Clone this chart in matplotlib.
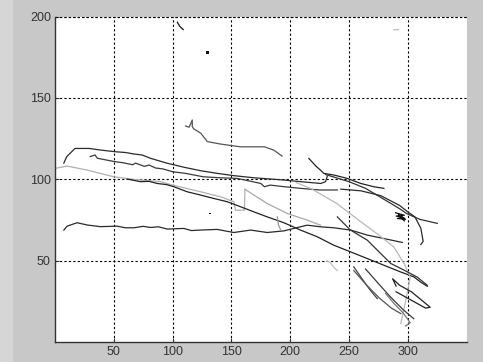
import numpy as np
import matplotlib
matplotlib.use('Agg')
import matplotlib.pyplot as plt
from matplotlib.patches import Rectangle

# tracks: (x list, y list, colour)
track_a_x = [7.5, 10, 17, 29, 39, 51, 60, 67, 74, 81, 88, 95, 110, 124, 138, 152, 169, 180, 195, 209, 226, 230, 231.5]
track_a_y = [110, 114, 119, 119, 118, 117, 116.5, 115.6, 115, 113, 111.5, 110, 107.4, 105.3, 103.7, 102.3, 101, 100.4, 99.6, 98.6, 97.5, 98.6, 102]

track_b_x = [30, 34, 36, 50, 58, 66, 68.5, 76, 80, 85.5, 92, 100, 111, 126, 140, 155, 175, 178, 183, 195, 209, 225, 240]
track_b_y = [114, 115, 113, 111, 110.2, 109, 110, 108, 108.8, 107, 106.4, 104.7, 103.7, 101.6, 101, 100.6, 97.5, 95.5, 96.5, 95.5, 94.5, 93.5, 93.5]

track_c_x = [111, 114, 116.7, 116.7, 118, 124, 129.5, 140.7, 157.7, 178, 186, 193]
track_c_y = [132.8, 132, 136.5, 132.4, 131, 128.3, 123.2, 121.7, 120, 120, 118, 114.3]

track_d_x = [215.8, 222, 225.7, 228.5, 237, 248.5, 260, 271, 279.6]
track_d_y = [112.9, 108, 105.7, 103.7, 102.7, 100.6, 97.5, 95.5, 94.5]

track_e_x = [230, 250, 264, 278, 293, 299, 310, 325]
track_e_y = [103, 98.6, 94.5, 88.5, 82, 79, 75.5, 73]

track_f_x = [0.4, 10.3, 27.4, 50, 67, 89.7, 100, 123.8, 140.7, 152, 153.5, 161, 161.5]
track_f_y = [106.8, 108.2, 105.7, 101.6, 100, 98.6, 96.5, 92.4, 89.3, 86.3, 81.1, 81.1, 93.9]

track_g_x = [61.4, 72.7, 80, 86.9, 95, 101, 112.4, 123.7, 135, 146.4, 157.8, 169, 180.4, 194.6, 208.7, 222.9, 237, 251.3, 265.5, 279.6, 293.8, 305, 310.8, 316.5]
track_g_y = [100.2, 98.6, 98.8, 97.5, 96.8, 95.5, 92.4, 90.4, 88.3, 86.3, 83.2, 80.1, 77, 73.4, 68.9, 64.8, 59.6, 55.5, 51.4, 47.3, 43.2, 40.2, 37, 34.4]

track_h_x = [7.5, 10.3, 18.8, 27.4, 38.7, 52.8, 60, 67, 75, 81, 88, 95.4, 109.5, 116, 123.7, 137.9, 152, 166.3, 180.4, 194.6, 203, 214.4, 225.7, 237, 251.3, 265.5, 279.6, 295.2]
track_h_y = [68.9, 71.3, 73.4, 72, 71, 71.3, 70.3, 70.3, 71.2, 70.5, 70.9, 69.5, 69.9, 68.6, 68.9, 69.3, 67.4, 68.9, 67.4, 68.4, 69.9, 71.9, 70.9, 70.3, 68.9, 65.8, 63.7, 61.3]

track_i_x = [161.5, 180.4, 197.4, 214.4, 225.7]
track_i_y = [93.9, 85.2, 79.1, 75, 71.9]

track_j_x = [205, 217.3, 240, 260, 275, 288, 296.7, 302, 298, 294]
track_j_y = [98, 94.5, 85, 74, 66, 58.6, 48.4, 40, 25, 11.5]

track_k_x = [240, 251, 265.5, 285.4, 296.7, 308, 316.5]
track_k_y = [77, 69, 62.7, 48.4, 44.3, 40, 35]

track_l_x = [243, 260, 277, 293, 300, 306, 311, 313, 311]
track_l_y = [94, 93, 90, 84, 80, 77, 70, 62, 60]

track_m_x = [254, 262, 268, 274]
track_m_y = [46.3, 38, 32, 26.8]

track_n_x = [254, 265, 276, 286, 294]
track_n_y = [44, 35, 27, 21, 17.6]

track_o_x = [264, 275, 285, 296, 305]
track_o_y = [45, 36, 28, 20, 14.5]

track_p_x = [290, 287, 293, 303, 319, 315, 305, 290]
track_p_y = [34.5, 39, 35, 31, 21.5, 21, 25, 31]

track_q_x = [281, 288, 296, 302, 298]
track_q_y = [30, 24, 18, 12, 10]

track_r_x = [104, 106, 109]
track_r_y = [196.5, 194, 192]

track_s_x = [231, 234, 237, 240]
track_s_y = [50, 49, 46, 44]

track_t_x = [189, 190, 191.8]
track_t_y = [77, 72, 69]

track_u_x = [288, 292]
track_u_y = [191.8, 192]

track_blob_x = [289.5, 297, 290, 296.5, 291, 298, 292, 297]
track_blob_y = [79.5, 78, 77.5, 76.5, 76, 75.5, 78.5, 74.5]

tracks = [
    (track_a_x, track_a_y, '#2a2a2a'),
    (track_b_x, track_b_y, '#3a3a3a'),
    (track_c_x, track_c_y, '#555555'),
    (track_d_x, track_d_y, '#222222'),
    (track_e_x, track_e_y, '#333333'),
    (track_f_x, track_f_y, '#b0b0b0'),
    (track_g_x, track_g_y, '#222222'),
    (track_h_x, track_h_y, '#2a2a2a'),
    (track_i_x, track_i_y, '#a8a8a8'),
    (track_j_x, track_j_y, '#b8b8b8'),
    (track_k_x, track_k_y, '#333333'),
    (track_l_x, track_l_y, '#2a2a2a'),
    (track_m_x, track_m_y, '#444444'),
    (track_n_x, track_n_y, '#555555'),
    (track_o_x, track_o_y, '#3a3a3a'),
    (track_p_x, track_p_y, '#222222'),
    (track_q_x, track_q_y, '#777777'),
    (track_r_x, track_r_y, '#111111'),
    (track_s_x, track_s_y, '#c0c0c0'),
    (track_t_x, track_t_y, '#999999'),
    (track_u_x, track_u_y, '#bbbbbb'),
    (track_blob_x, track_blob_y, '#111111'),
]

dot_x = [129.5, 131.6]
dot_y = [178, 79]
dot_s = [3, 1.2]

x_ticks = [50, 100, 150, 200, 250, 300]
y_ticks = [50, 100, 150, 200]

plt.rcParams['font.family'] = ['Liberation Sans', 'DejaVu Sans']

fig = plt.figure(figsize=(4.83, 3.62), dpi=100, facecolor='#c8c8c8')
fig.patches.append(Rectangle((0, 0), 13 / 483, 1, transform=fig.transFigure,
                             facecolor='#d6d6d6', edgecolor='none', zorder=-1))
ax = fig.add_axes([55 / 483, 19.7 / 362, 411.7 / 483, 325.8 / 362])
ax.set_facecolor('white')

for tx, ty, c in tracks:
    ax.plot(tx, ty, color=c, lw=0.9)
ax.scatter(dot_x, dot_y, s=dot_s, color='#111111', marker='s', lw=0)

ax.set_xlim(0, 350)
ax.set_ylim(0, 200)
ax.set_xticks(x_ticks)
ax.set_yticks(y_ticks)
ax.grid(True, color='black', linestyle=(0, (2, 2)), lw=0.8)
ax.axhline(200, color='black', linestyle=(0, (2, 2)), lw=0.8, clip_on=False)
for s in ['top', 'right']:
    ax.spines[s].set_visible(False)
for s in ['left', 'bottom']:
    ax.spines[s].set_color('#333333')
    ax.spines[s].set_linewidth(1.0)
ax.tick_params(direction='in', length=3, labelsize=9, labelcolor='#333333', color='#333333', pad=3)

fig.savefig('out.png', dpi=100, facecolor=fig.get_facecolor())
